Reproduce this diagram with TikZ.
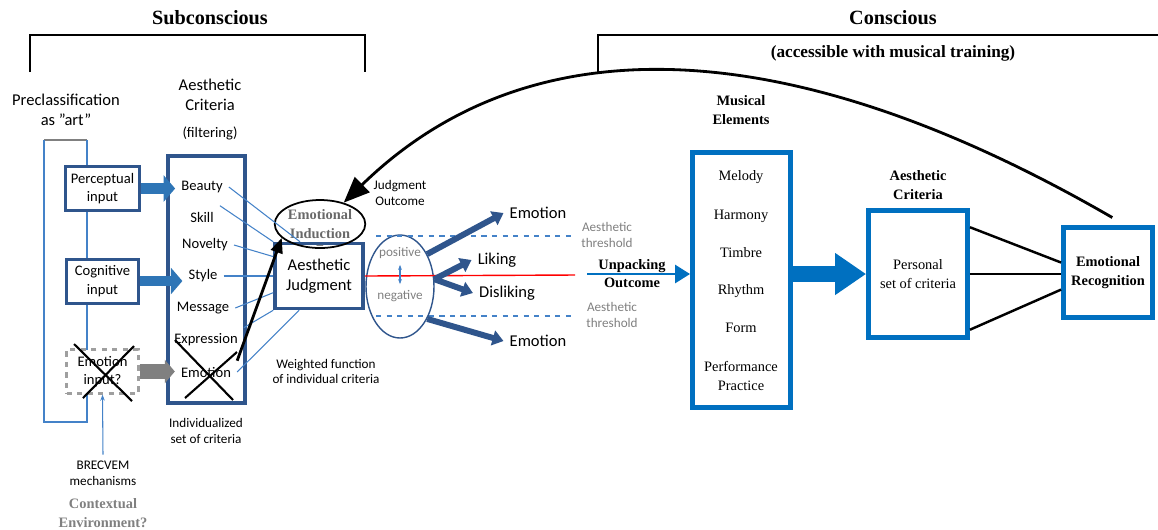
\documentclass[tikz,border=0pt]{standalone}
\usepackage{fontspec}
\setmainfont{Liberation Serif}
\setsansfont{Carlito}
\usetikzlibrary{arrows.meta,shapes.geometric}

\definecolor{dkblue}{RGB}{47,85,140}
\definecolor{lnblue}{RGB}{68,130,200}
\definecolor{brblue}{RGB}{0,112,192}
\definecolor{arrblue}{RGB}{46,117,182}
\definecolor{txtgray}{RGB}{128,128,128}
\definecolor{indgray}{RGB}{105,105,105}

\newcommand{\bigsans}{\sffamily\fontsize{9.4}{11.3}\selectfont}
\newcommand{\midsans}{\sffamily\fontsize{8.3}{10.4}\selectfont}
\newcommand{\smallsans}{\sffamily\fontsize{7.5}{9}\selectfont}
\newcommand{\titleserif}{\rmfamily\bfseries\fontsize{11.5}{13}\selectfont}
\newcommand{\accserif}{\rmfamily\bfseries\fontsize{9.8}{11}\selectfont}
\newcommand{\boldserif}{\rmfamily\bfseries\fontsize{8.2}{10.4}\selectfont}
\newcommand{\plainserif}{\rmfamily\fontsize{8.2}{10.4}\selectfont}

\begin{document}
\begin{tikzpicture}[x=0.02cm, y=-0.02cm, inbox/.style={draw=dkblue, line width=1.7pt, fill=white, minimum width=1.44cm, minimum height=0.88cm, align=center, font=\midsans}, critbox/.style={draw=dkblue, line width=2.2pt, minimum width=1.54cm, minimum height=4.94cm}, judgebox/.style={draw=dkblue, line width=2pt, fill=white, minimum width=1.76cm, minimum height=1.3cm, align=center, font=\bigsans}, mbox/.style={draw=brblue, line width=2.8pt, fill=white, align=center}, lab/.style={align=center, font=\midsans}, wire/.style={draw=lnblue, line width=0.6pt}, fat/.style={draw=dkblue, line width=3.4pt, -{Triangle[length=0.22cm, width=0.3cm]}}, block/.style={draw=arrblue, line width=0.21cm, -{Triangle[length=0.23cm, width=0.52cm]}}, blk/.style={black, line width=1.6pt, -{Triangle[length=0.3cm, width=0.24cm]}}, bracket/.style={black, line width=1.4pt}]
            \useasboundingbox (0,0) rectangle (1158,529);
            % headings
            \node[font=\titleserif] (subc) at (210,18) {Subconscious};
            \node[font=\titleserif] (conc) at (893,18) {Conscious};
            \node[font=\accserif] (access) at (893,53) {(accessible with musical training)};
            \draw[bracket] (30,72) -- (30,35) -- (365,35) -- (365,72);
            \draw[bracket] (598,72) -- (598,35) -- (1158,35);
            % inputs
            \node[lab, font=\bigsans] (precl) at (66,110) {Preclassification\\as ”art”};
            \draw[gray, line width=1pt] (44,140) -- (87,140);
            \draw[lnblue, line width=1pt] (87,140) -- (87,422) -- (44,422) -- (44,140);
            \node[inbox] (perc) at (102.5,188.5) {Perceptual\\input};
            \node[inbox] (cogn) at (102.5,281) {Cognitive\\input};
            \node[inbox, draw=gray!75, dashed, line width=1.3pt] (emoin) at (102.5,371.5) {Emotion\\input?};
            \draw[black, line width=1.2pt] (74,344) -- (132,401);
            \draw[black, line width=1.2pt] (83,398) -- (134,346);
            \node[lab, font=\smallsans] (brec) at (103,473) {BRECVEM\\mechanisms};
            \node[align=center, font=\boldserif, text=txtgray] (context) at (103,513) {Contextual\\Environment?};
            % criteria
            \node[lab, font=\bigsans] (crithead) at (210,95) {Aesthetic\\Criteria};
            \node[lab] (filter) at (210,133) {(filtering)};
            \node[critbox] (crit) at (206.5,279.5) {};
            \node[lab] (beauty) at (202,187) {Beauty};
            \node[lab] (skill) at (202,217) {Skill};
            \node[lab] (novelty) at (205,245) {Novelty};
            \node[lab] (style) at (203,276) {Style};
            \node[lab] (message) at (203,308) {Message};
            \node[lab] (express) at (206,340) {Expression};
            \node[lab] (emotion) at (206,372) {Emotion};
            \draw[black, line width=1.2pt] (175,340) -- (233,400);
            \draw[black, line width=1.2pt] (185,398) -- (237,352);
            \node[lab, font=\smallsans] (indiv) at (206,431) {Individualized\\set of criteria};
            % judgment
            \node[judgebox] (aj) at (319,276) {Aesthetic\\Judgment};
            \node[font=\bigsans, text=txtgray] (eq) at (320,249) {=};
            \node[ellipse, draw, line width=1pt, minimum width=1.76cm, minimum height=0.96cm, inner sep=0pt, align=center, font=\boldserif, text=indgray] (induct) at (320,224) {Emotional\\Induction};
            \node[lab, font=\smallsans] (weight) at (326,371.5) {Weighted function\\of individual criteria};
            % outcome
            \node[lab, font=\smallsans] (jout) at (400,193) {Judgment\\Outcome};
            \node[ellipse, draw=dkblue, line width=0.8pt, minimum width=1.36cm, minimum height=2.06cm] (outc) at (400,286.5) {};
            \node[font=\smallsans, text=txtgray] (pos) at (400,253) {positive};
            \node[font=\smallsans, text=txtgray] (neg) at (400,296) {negative};
            \draw[lnblue, line width=0.8pt, dashed] (376,236) -- (575,236);
            \draw[lnblue, line width=0.8pt, dashed] (376,316) -- (575,316);
            \coordinate (redend) at (575,275);
            \node[font=\bigsans] (emoup) at (538,213) {Emotion};
            \node[font=\bigsans] (liking) at (497,260) {Liking};
            \node[font=\bigsans] (disliking) at (507,293) {Disliking};
            \node[font=\bigsans] (emodn) at (538,341) {Emotion};
            \node[lab, font=\smallsans, text=txtgray] (thrup) at (607,235) {Aesthetic\\threshold};
            \node[lab, font=\smallsans, text=txtgray] (thrdn) at (612,315) {Aesthetic\\threshold};
            % conscious part
            \node[align=center, font=\boldserif] (unpack) at (632,273.5) {Unpacking\\Outcome};
            \coordinate (unp) at (587,274);
            \node[align=center, font=\boldserif] (mushead) at (741,110) {Musical\\Elements};
            \node[mbox, minimum width=1.96cm, minimum height=5.1cm] (music) at (741.5,280) {};
            \node[font=\plainserif] (melody) at (741,177) {Melody};
            \node[font=\plainserif] (harmony) at (741,216) {Harmony};
            \node[font=\plainserif] (timbre) at (741,253) {Timbre};
            \node[font=\plainserif] (rhythm) at (741,291) {Rhythm};
            \node[font=\plainserif] (form) at (741,328) {Form};
            \node[align=center, font=\plainserif] (perform) at (741,376) {Performance\\Practice};
            \node[align=center, font=\boldserif] (perhead) at (918,185) {Aesthetic\\Criteria};
            \node[mbox, minimum width=1.98cm, minimum height=2.54cm, font=\plainserif] (pers) at (918,274) {Personal\\set of criteria};
            \node[mbox, minimum width=1.78cm, minimum height=1.8cm, font=\boldserif] (recog) at (1108,272.5) {Emotional\\Recognition};
            % edges
            \draw[block] (perc.east) -- (perc.east -| beauty.west);
            \draw[block] (cogn.east) -- (cogn.east -| style.west);
            \draw[draw=gray, line width=0.3cm, -{Triangle[length=0.2cm, width=0.46cm]}] (emoin.east) -- (emoin.east -| emotion.west);
            \draw[lnblue, line width=0.6pt, -{Stealth[length=0.12cm]}] (brec.north) -- (emoin.south);
            \draw[wire] (beauty.east) -- (aj.119);
            \draw[wire] (skill.north east) -- (aj.north west);
            \draw[wire] (novelty.east) -- (aj.157);
            \draw[wire] (style.east) -- (aj.west);
            \draw[wire] (message.east) -- (aj.200);
            \draw[wire] (express.north east) -- (aj.south west);
            \draw[wire] (emotion.east) -- (aj.240);
            \draw[red, line width=0.8pt] (aj.east) -- (redend);
            \draw[lnblue, line width=0.6pt, {Stealth[length=0.1cm]}-{Stealth[length=0.1cm]}] (pos.south) -- (neg.north);
            \draw[fat] (outc.50) -- (emoup.west);
            \draw[fat] (outc.12) -- (liking.west);
            \draw[fat] (outc.12) -- (disliking.west);
            \draw[fat] (outc.-50) -- (emodn.west);
            \draw[brblue, line width=1.6pt, -{Triangle[length=0.3cm, width=0.36cm]}] (unp) -- (unp -| music.west);
            \draw[brblue, line width=0.32cm, -{Triangle[length=0.62cm, width=0.8cm]}] (music.east |- pers.west) -- (pers.west);
            \draw[black, line width=1.4pt] (pers.42) -- (recog.168);
            \draw[black, line width=1.4pt] (pers.east) -- (recog.west |- pers.east);
            \draw[black, line width=1.4pt] (pers.-47) -- (recog.200);
            \draw[blk] (emotion.north east) -- (induct.200);
            \draw[blk, -{Triangle[length=0.52cm, width=0.42cm]}, shorten <=0.3cm] (recog.70) .. controls (790,31) and (530,21) .. (induct.42);
        \end{tikzpicture}
\end{document}
